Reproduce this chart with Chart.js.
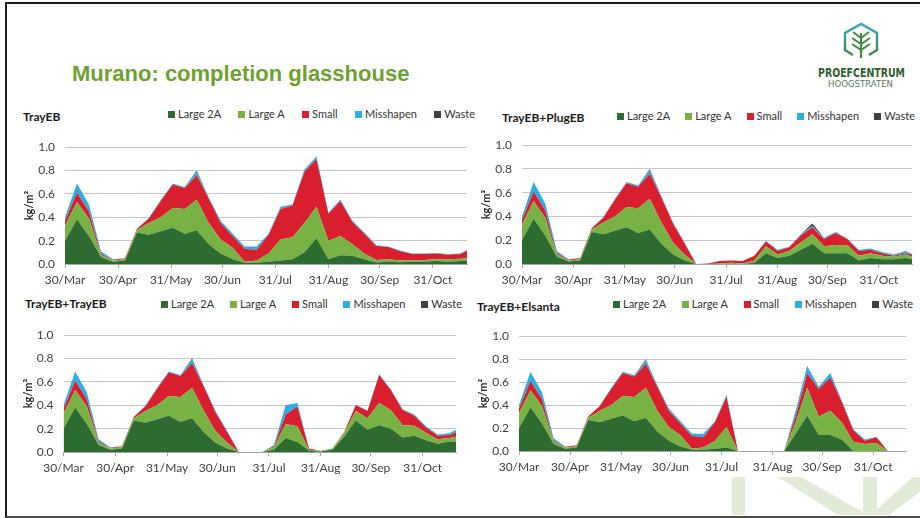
<!DOCTYPE html>
<html>
<head>
<meta charset="utf-8">
<title>Murano: completion glasshouse</title>
<script src="https://cdn.jsdelivr.net/npm/chart.js"></script>
<style>
  body { margin: 0; width: 920px; height: 518px; position: relative; overflow: hidden; background: #fff; font-family: Lato, sans-serif; }
  .frame { position: absolute; left: 5px; top: 2px; width: 940px; height: 512px; border: 2px solid #1b1b1b; border-right: none; border-bottom-color: #4a4a4a; }
  h1 { position: absolute; left: 72px; top: 61px; margin: 0; line-height: 25px; font: bold 22px "Liberation Sans", Arial, sans-serif; color: #6ea22f; }
  .ctitle { position: absolute; line-height: 14px; font: bold 12px Lato, sans-serif; color: #1a1a1a; }
  .legend { position: absolute; height: 14px; display: flex; justify-content: space-between; align-items: center; font: 11px Lato, sans-serif; color: #333; }
  .legend .box { display: inline-block; width: 7px; height: 7px; margin-right: 3px; vertical-align: 0; }
  canvas { position: absolute; }
</style>
</head>
<body>
<div class="frame"></div>
<svg style="position:absolute;left:0;top:0" width="920" height="518">
  <defs>
    <linearGradient id="hexg" x1="0" y1="0" x2="0" y2="1">
      <stop offset="0" stop-color="#3fa6d0"/>
      <stop offset="1" stop-color="#3f8f3a"/>
    </linearGradient>
  </defs>
  <g fill="#e2ebd8">
    <rect x="732" y="477" width="13" height="38"/>
    <polygon points="778,477 801,477 868,515 838,515"/>
    <rect x="863" y="477" width="14" height="38"/>
    <polygon points="877,509 913,477 920,477 920,492 889,515 877,515"/>
  </g>
  <polyline points="853,55 845,50 845,33 861,24 877,33 877,50 869,55" fill="none" stroke="url(#hexg)" stroke-width="2.5"/>
  <g stroke="#3f8f3a" stroke-width="2" fill="none">
    <line x1="861" y1="33" x2="861" y2="58"/>
    <polyline points="853,32 861,38 869,32"/>
    <polyline points="852,38 861,44 870,38"/>
    <polyline points="852,44 861,50 870,44"/>
  </g>
  <text x="818" y="77" textLength="87" lengthAdjust="spacingAndGlyphs" font-family="DejaVu Sans Condensed, DejaVu Sans" font-weight="bold" font-size="13" fill="#2f5e2f">PROEFCENTRUM</text>
  <text x="828" y="87" textLength="65" lengthAdjust="spacingAndGlyphs" font-family="DejaVu Sans Condensed, DejaVu Sans" font-size="9" fill="#5a7a5a">HOOGSTRATEN</text>
</svg>
<h1>Murano: completion glasshouse</h1>

<script>
// harvest dates (weekly) and x-axis tick dates
const harvestDates = ['2015-03-30', '2015-04-06', '2015-04-13', '2015-04-20', '2015-04-27', '2015-05-04', '2015-05-11',
  '2015-05-18', '2015-05-25', '2015-06-01', '2015-06-08', '2015-06-15', '2015-06-22', '2015-06-29', '2015-07-06',
  '2015-07-13', '2015-07-20', '2015-07-27', '2015-08-03', '2015-08-10', '2015-08-17', '2015-08-24', '2015-08-31',
  '2015-09-07', '2015-09-14', '2015-09-21', '2015-09-28', '2015-10-05', '2015-10-12', '2015-10-19', '2015-10-26',
  '2015-11-02', '2015-11-09', '2015-11-16', '2015-11-20'];
const tickDates = ['2015-03-30', '2015-04-30', '2015-05-31', '2015-06-30', '2015-07-31', '2015-08-31', '2015-09-30', '2015-10-31'];
const tickLabels = ['30/Mar', '30/Apr', '31/May', '30/Jun', '31/Jul', '31/Aug', '30/Sep', '31/Oct'];

const seriesNames = ['Large 2A', 'Large A', 'Small', 'Misshapen', 'Waste'];
const seriesColors = ['#2e6b30', '#78b244', '#d91f2d', '#2aaee4', '#404040'];

// TrayEB
const trayEB_l2a = [0.20, 0.38, 0.24, 0.06, 0.02, 0.03, 0.27, 0.25, 0.28, 0.31, 0.26, 0.29, 0.17, 0.09, 0.04, 0.01, 0.01, 0.02, 0.03, 0.04, 0.10, 0.22, 0.04, 0.075, 0.07, 0.04, 0.013, 0.02, 0.015, 0.02, 0.02, 0.025, 0.02, 0.025, 0.03];
const trayEB_la = [0.13, 0.15, 0.15, 0.02, 0.01, 0.01, 0.02, 0.10, 0.12, 0.17, 0.21, 0.26, 0.18, 0.12, 0.10, 0.01, 0.02, 0.07, 0.18, 0.19, 0.25, 0.27, 0.16, 0.165, 0.10, 0.05, 0.022, 0.02, 0.015, 0.01, 0.015, 0.015, 0.02, 0.02, 0.02];
const trayEB_sm = [0.04, 0.08, 0.06, 0.01, 0.005, 0.01, 0.01, 0.04, 0.14, 0.20, 0.18, 0.21, 0.21, 0.14, 0.10, 0.11, 0.09, 0.16, 0.26, 0.27, 0.44, 0.41, 0.23, 0.30, 0.19, 0.17, 0.12, 0.105, 0.08, 0.055, 0.05, 0.05, 0.04, 0.04, 0.065];
const trayEB_mis = [0.03, 0.08, 0.06, 0.02, 0.005, 0, 0, 0.005, 0.01, 0.01, 0.01, 0.03, 0.01, 0.02, 0.02, 0.02, 0.03, 0.01, 0.02, 0.01, 0.02, 0.02, 0.01, 0.01, 0.01, 0.01, 0.005, 0.005, 0.005, 0.005, 0.005, 0.005, 0.005, 0.005, 0.005];
const trayEB_waste = [0, 0, 0, 0, 0, 0, 0, 0, 0, 0, 0, 0.01, 0, 0, 0, 0, 0, 0, 0, 0, 0, 0, 0, 0, 0, 0, 0, 0, 0, 0, 0, 0, 0, 0, 0];

// TrayEB+PlugEB
const plugEB_l2a = [0.20, 0.38, 0.24, 0.06, 0.02, 0.03, 0.27, 0.25, 0.28, 0.31, 0.26, 0.29, 0.17, 0.08, 0.03, 0, 0, 0, 0, 0, 0.01, 0.09, 0.05, 0.07, 0.12, 0.17, 0.09, 0.09, 0.09, 0.03, 0.05, 0.04, 0.04, 0.05, 0.04];
const plugEB_la = [0.13, 0.15, 0.15, 0.02, 0.01, 0.01, 0.02, 0.10, 0.12, 0.17, 0.21, 0.26, 0.18, 0.10, 0.05, 0, 0, 0.005, 0.01, 0.005, 0.02, 0.06, 0.03, 0.04, 0.06, 0.08, 0.06, 0.07, 0.07, 0.04, 0.04, 0.03, 0.02, 0.03, 0.02];
const plugEB_sm = [0.04, 0.08, 0.06, 0.01, 0.005, 0.01, 0.01, 0.04, 0.14, 0.20, 0.18, 0.21, 0.21, 0.16, 0.09, 0, 0.005, 0.02, 0.02, 0.02, 0.04, 0.04, 0.03, 0.03, 0.06, 0.06, 0.06, 0.10, 0.05, 0.04, 0.03, 0.02, 0.01, 0.01, 0.02];
const plugEB_mis = [0.03, 0.08, 0.06, 0.02, 0.005, 0, 0, 0.005, 0.01, 0.01, 0.01, 0.03, 0.01, 0.01, 0.01, 0, 0, 0, 0, 0, 0, 0.005, 0.01, 0.005, 0.01, 0.01, 0.01, 0.01, 0.005, 0.01, 0.01, 0.01, 0.01, 0.02, 0.005];
const plugEB_waste = [0, 0, 0, 0, 0, 0, 0, 0, 0, 0, 0, 0.01, 0, 0, 0, 0, 0, 0, 0, 0, 0, 0, 0, 0, 0, 0.02, 0, 0, 0, 0, 0, 0, 0, 0, 0];

// TrayEB+TrayEB
const trayTray_l2a = [0.20, 0.38, 0.24, 0.06, 0.02, 0.03, 0.27, 0.25, 0.28, 0.31, 0.26, 0.29, 0.17, 0.08, 0.03, 0, 0, 0, 0.02, 0.12, 0.085, 0.01, 0.005, 0.02, 0.13, 0.27, 0.19, 0.23, 0.20, 0.125, 0.14, 0.10, 0.07, 0.09, 0.09];
const trayTray_la = [0.13, 0.15, 0.15, 0.02, 0.01, 0.01, 0.02, 0.10, 0.12, 0.17, 0.21, 0.26, 0.18, 0.10, 0.05, 0, 0, 0, 0.02, 0.12, 0.135, 0.01, 0.005, 0.01, 0.03, 0.08, 0.10, 0.19, 0.16, 0.105, 0.085, 0.065, 0.04, 0.03, 0.04];
const trayTray_sm = [0.04, 0.08, 0.06, 0.01, 0.005, 0.01, 0.01, 0.04, 0.14, 0.20, 0.18, 0.21, 0.21, 0.16, 0.09, 0, 0, 0, 0.01, 0.08, 0.17, 0.01, 0, 0, 0.01, 0.05, 0.06, 0.24, 0.17, 0.13, 0.085, 0.045, 0.03, 0.025, 0.04];
const trayTray_mis = [0.03, 0.08, 0.06, 0.02, 0.005, 0, 0, 0.005, 0.01, 0.01, 0.01, 0.03, 0.01, 0.01, 0.01, 0, 0, 0, 0.01, 0.08, 0.03, 0, 0, 0, 0, 0.005, 0.005, 0.005, 0.005, 0.005, 0.01, 0.01, 0.01, 0.015, 0.02];
const trayTray_waste = [0, 0, 0, 0, 0, 0, 0, 0, 0, 0, 0, 0.01, 0, 0, 0, 0, 0, 0, 0, 0, 0, 0, 0, 0, 0, 0, 0, 0, 0, 0, 0, 0, 0, 0, 0];

// TrayEB+Elsanta
const elsanta_l2a = [0.20, 0.38, 0.24, 0.06, 0.02, 0.03, 0.27, 0.25, 0.28, 0.31, 0.26, 0.29, 0.17, 0.09, 0.04, 0.01, 0.01, 0.02, 0.03, 0, 0, 0, 0, 0, 0.15, 0.31, 0.14, 0.14, 0.10, 0, 0, 0, 0, 0, 0];
const elsanta_la = [0.13, 0.15, 0.15, 0.02, 0.01, 0.01, 0.02, 0.10, 0.12, 0.17, 0.21, 0.26, 0.18, 0.12, 0.10, 0.01, 0.02, 0.07, 0.18, 0, 0, 0, 0, 0, 0.10, 0.24, 0.16, 0.21, 0.15, 0.08, 0.06, 0.07, 0, 0, 0];
const elsanta_sm = [0.04, 0.08, 0.06, 0.01, 0.005, 0.01, 0.01, 0.04, 0.14, 0.20, 0.18, 0.21, 0.21, 0.14, 0.10, 0.11, 0.09, 0.16, 0.26, 0, 0, 0, 0, 0, 0.05, 0.13, 0.24, 0.29, 0.18, 0.10, 0.03, 0.05, 0, 0, 0];
const elsanta_mis = [0.03, 0.08, 0.06, 0.02, 0.005, 0, 0, 0.005, 0.01, 0.01, 0.01, 0.03, 0.01, 0.02, 0.02, 0.02, 0.03, 0.01, 0.02, 0, 0, 0, 0, 0, 0.05, 0.06, 0.02, 0.04, 0.01, 0.01, 0.01, 0.005, 0, 0, 0];
const elsanta_waste = [0, 0, 0, 0, 0, 0, 0, 0, 0, 0, 0, 0.01, 0, 0, 0, 0, 0, 0, 0, 0, 0, 0, 0, 0, 0, 0, 0, 0, 0, 0, 0, 0, 0, 0, 0];

// day offsets from the first harvest
const dayOf = s => (Date.parse(s) - Date.parse(harvestDates[0])) / 864e5;
const harvestDays = harvestDates.map(dayOf);
const tickDays = tickDates.map(dayOf);
const lastDay = harvestDays[harvestDays.length - 1];

// panel placement on the slide
const panels = [
  { title: 'TrayEB', series: [trayEB_l2a, trayEB_la, trayEB_sm, trayEB_mis, trayEB_waste],
    titlePos: [23, 109], legendPos: [168, 106, 307], canvas: [18, 130, 454, 158], yw: 47 },
  { title: 'TrayEB+PlugEB', series: [plugEB_l2a, plugEB_la, plugEB_sm, plugEB_mis, plugEB_waste],
    titlePos: [502, 110], legendPos: [617, 108, 298], canvas: [475, 128, 442, 160], yw: 47 },
  { title: 'TrayEB+TrayEB', series: [trayTray_l2a, trayTray_la, trayTray_sm, trayTray_mis, trayTray_waste],
    titlePos: [25, 296], legendPos: [161, 296, 301], canvas: [17, 318, 444, 158], yw: 46.5 },
  { title: 'TrayEB+Elsanta', series: [elsanta_l2a, elsanta_la, elsanta_sm, elsanta_mis, elsanta_waste],
    titlePos: [477, 299], legendPos: [613, 296, 300], canvas: [472, 318.5, 439, 156], yw: 47 }
];

const tickFont = { family: 'Lato', size: 12 };

panels.forEach((p, n) => {
  const t = document.createElement('div');
  t.className = 'ctitle';
  t.style.left = p.titlePos[0] + 'px';
  t.style.top = p.titlePos[1] + 'px';
  t.textContent = p.title;
  document.body.appendChild(t);

  const lg = document.createElement('div');
  lg.className = 'legend';
  lg.style.left = p.legendPos[0] + 'px';
  lg.style.top = p.legendPos[1] + 'px';
  lg.style.width = p.legendPos[2] + 'px';
  seriesNames.forEach((name, i) => {
    const item = document.createElement('span');
    item.innerHTML = '<span class="box" style="background:' + seriesColors[i] + '"></span>' + name;
    lg.appendChild(item);
  });
  document.body.appendChild(lg);

  const c = document.createElement('canvas');
  c.id = 'chart' + n;
  c.width = p.canvas[2];
  c.height = p.canvas[3];
  c.style.left = p.canvas[0] + 'px';
  c.style.top = p.canvas[1] + 'px';
  document.body.appendChild(c);

  new Chart(c.getContext('2d'), {
    type: 'line',
    data: {
      datasets: p.series.map((vals, i) => ({
        label: seriesNames[i],
        data: vals.map((v, k) => ({ x: harvestDays[k], y: v })),
        backgroundColor: seriesColors[i],
        borderWidth: 0,
        pointRadius: 0,
        tension: 0,
        fill: i === 0 ? 'origin' : '-1'
      }))
    },
    options: {
      responsive: false,
      animation: false,
      layout: { padding: { top: 9, right: 5, left: 0, bottom: 0 } },
      plugins: { legend: { display: false }, tooltip: { enabled: false } },
      scales: {
        x: {
          type: 'linear',
          min: 0,
          max: lastDay,
          afterBuildTicks: s => { s.ticks = tickDays.map(v => ({ value: v })); },
          afterFit: s => { s.height = 24; },
          ticks: { callback: (v, i) => tickLabels[i], font: tickFont, color: '#404040', padding: 5, maxRotation: 0, autoSkip: false },
          grid: { drawOnChartArea: false, drawTicks: true, tickLength: 4, color: '#a6a6a6' },
          border: { color: '#a6a6a6' }
        },
        y: {
          stacked: true,
          min: 0,
          max: 1,
          afterFit: s => { s.width = p.yw; },
          ticks: { stepSize: 0.2, callback: v => v.toFixed(1), font: { family: 'Lato', size: 12 }, color: '#404040', padding: 10 },
          grid: { color: '#c4c4c4', drawTicks: false },
          border: { display: false },
          title: { display: true, text: 'kg/m²', font: { family: 'Lato', size: 11, weight: 'bold' }, color: '#262626', padding: { top: 5, bottom: 0 } }
        }
      }
    }
  });
});
</script>
</body>
</html>
